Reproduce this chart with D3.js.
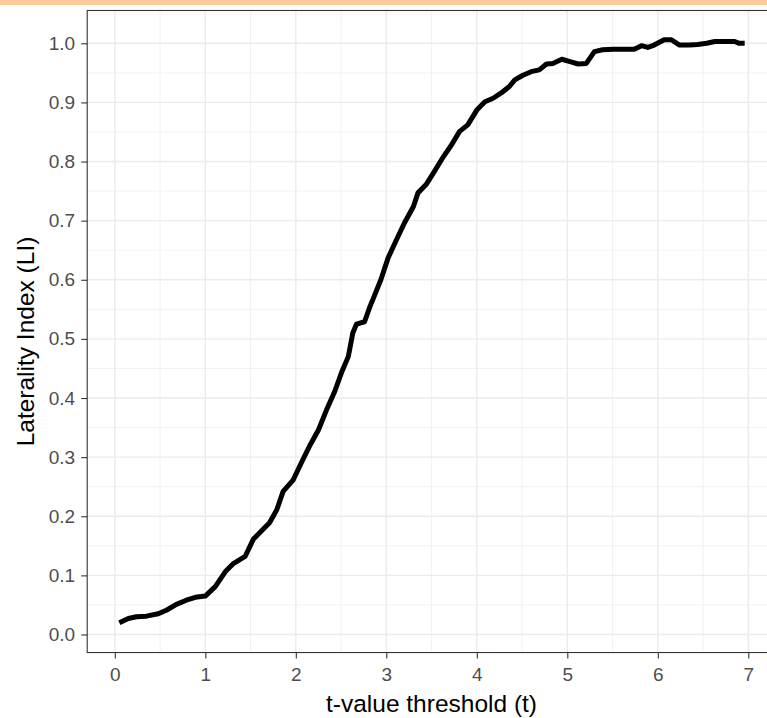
<!DOCTYPE html>
<html>
<head>
<meta charset="utf-8">
<script src="https://cdn.jsdelivr.net/npm/d3@7"></script>
<style>
  html, body { margin: 0; padding: 0; background: #ffffff; }
  svg { display: block; font-family: "Liberation Sans", Arial, sans-serif; }
</style>
</head>
<body>
<svg id="chart" width="767" height="718"></svg>
<script>
// t-value thresholds and the laterality index measured at each one
const tValues = [
  0.05, 0.15, 0.24, 0.35, 0.48, 0.57, 0.68, 0.79, 0.89, 1.00,
  1.11, 1.22, 1.31, 1.44, 1.53, 1.62, 1.71, 1.79, 1.86, 1.97,
  2.06, 2.16, 2.25, 2.34, 2.43, 2.51, 2.58, 2.63, 2.67, 2.76,
  2.82, 2.85, 2.94, 3.02, 3.11, 3.20, 3.30, 3.35, 3.44, 3.53,
  3.63, 3.72, 3.81, 3.90, 4.00, 4.09, 4.18, 4.27, 4.36, 4.42,
  4.51, 4.60, 4.69, 4.77, 4.84, 4.94, 5.03, 5.12, 5.21, 5.30,
  5.39, 5.51, 5.62, 5.74, 5.82, 5.89, 5.96, 6.07, 6.15, 6.24,
  6.35, 6.44, 6.54, 6.63, 6.76, 6.85, 6.90, 6.96
];
const liValues = [
  0.020, 0.027, 0.030, 0.031, 0.035, 0.041, 0.051, 0.058, 0.063, 0.065,
  0.081, 0.106, 0.120, 0.132, 0.161, 0.175, 0.189, 0.211, 0.242, 0.261,
  0.290, 0.321, 0.346, 0.380, 0.411, 0.445, 0.470, 0.510, 0.525, 0.529,
  0.555, 0.566, 0.600, 0.637, 0.667, 0.696, 0.724, 0.747, 0.761, 0.783,
  0.808, 0.828, 0.851, 0.862, 0.887, 0.901, 0.907, 0.916, 0.927, 0.938,
  0.946, 0.952, 0.955, 0.965, 0.966, 0.973, 0.969, 0.965, 0.966, 0.986,
  0.989, 0.990, 0.990, 0.990, 0.996, 0.993, 0.997, 1.006, 1.006, 0.997,
  0.997, 0.998, 1.000, 1.003, 1.003, 1.003, 1.000, 1.000
];
const xTicks = [0, 1, 2, 3, 4, 5, 6, 7];
const yTicks = [0, 0.1, 0.2, 0.3, 0.4, 0.5, 0.6, 0.7, 0.8, 0.9, 1.0];
const xMinor = [0.5, 1.5, 2.5, 3.5, 4.5, 5.5, 6.5];
const yMinor = [0.05, 0.15, 0.25, 0.35, 0.45, 0.55, 0.65, 0.75, 0.85, 0.95, 1.05];
const xTitle = "t-value threshold (t)";
const yTitle = "Laterality Index (LI)";

const svg = d3.select("#chart");
const fontFamily = "Liberation Sans, Arial, sans-serif";

const x = d3.scaleLinear().domain([0, 7]).range([114.8, 748.3]);
const y = d3.scaleLinear().domain([0, 1]).range([634.5, 43.3]);

// panel limits with 5% padding around the data range
const xLim = [-0.305, 7.305];
const yLim = [-0.0305, 1.0555];
const pLeft = x(xLim[0]), pRight = x(xLim[1]);
const pTop = y(yLim[1]), pBottom = y(yLim[0]);

// thin coloured strip across the top
svg.append("rect")
  .attr("x", 0).attr("y", 0).attr("width", 767).attr("height", 5)
  .attr("fill", "#fccb97");

// panel background
svg.append("rect")
  .attr("x", pLeft).attr("y", pTop)
  .attr("width", pRight - pLeft).attr("height", pBottom - pTop)
  .attr("fill", "#ffffff");

const grid = svg.append("g");
// minor grid
grid.selectAll("line.xminor").data(xMinor).join("line")
  .attr("x1", d => x(d)).attr("x2", d => x(d))
  .attr("y1", pTop).attr("y2", pBottom)
  .attr("stroke", "#f0f0f0").attr("stroke-width", 0.9);
grid.selectAll("line.yminor").data(yMinor).join("line")
  .attr("y1", d => y(d)).attr("y2", d => y(d))
  .attr("x1", pLeft).attr("x2", pRight)
  .attr("stroke", "#f0f0f0").attr("stroke-width", 0.9);
// major grid
grid.selectAll("line.xmajor").data(xTicks).join("line")
  .attr("x1", d => x(d)).attr("x2", d => x(d))
  .attr("y1", pTop).attr("y2", pBottom)
  .attr("stroke", "#ebebeb").attr("stroke-width", 1.4);
grid.selectAll("line.ymajor").data(yTicks).join("line")
  .attr("y1", d => y(d)).attr("y2", d => y(d))
  .attr("x1", pLeft).attr("x2", pRight)
  .attr("stroke", "#ebebeb").attr("stroke-width", 1.4);

// the LI curve
const points = tValues.map((t, i) => [t, liValues[i]]);
const line = d3.line().x(d => x(d[0])).y(d => y(d[1]));
svg.append("path")
  .datum(points)
  .attr("d", line)
  .attr("fill", "none")
  .attr("stroke", "#000000")
  .attr("stroke-width", 5)
  .attr("stroke-linejoin", "round")
  .attr("stroke-linecap", "butt");

// panel border
svg.append("rect")
  .attr("x", pLeft).attr("y", pTop)
  .attr("width", pRight - pLeft).attr("height", pBottom - pTop)
  .attr("fill", "none").attr("stroke", "#333333").attr("stroke-width", 1.1);

// axes
const xAxis = d3.axisBottom(x).tickValues(xTicks).tickSize(6).tickPadding(9)
  .tickFormat(d3.format("d"));
const gx = svg.append("g").attr("transform", `translate(0,${pBottom})`).call(xAxis);
gx.select(".domain").remove();
gx.selectAll(".tick line").attr("stroke", "#333333").attr("stroke-width", 1.1);
gx.selectAll(".tick text").attr("fill", "#4d4d4d")
  .style("font-size", "19px").style("font-family", fontFamily);

const yAxis = d3.axisLeft(y).tickValues(yTicks).tickSize(6).tickPadding(6)
  .tickFormat(d3.format(".1f"));
const gy = svg.append("g").attr("transform", `translate(${pLeft},0)`).call(yAxis);
gy.select(".domain").remove();
gy.selectAll(".tick line").attr("stroke", "#333333").attr("stroke-width", 1.1);
gy.selectAll(".tick text").attr("fill", "#4d4d4d")
  .style("font-size", "19px").style("font-family", fontFamily);

// axis titles
svg.append("text")
  .attr("x", 431.5).attr("y", 712)
  .attr("text-anchor", "middle")
  .style("font-size", "24.5px").attr("fill", "#000000")
  .text(xTitle);

svg.append("text")
  .attr("transform", "translate(34,341.5) rotate(-90)")
  .attr("text-anchor", "middle")
  .style("font-size", "24.5px").attr("fill", "#000000")
  .text(yTitle);
</script>
</body>
</html>
